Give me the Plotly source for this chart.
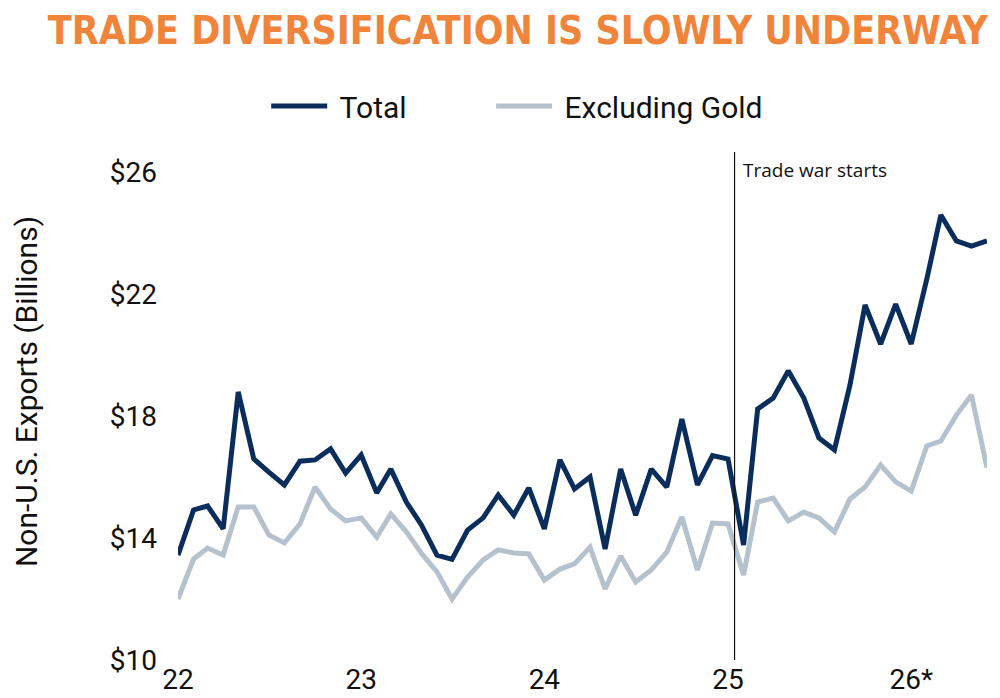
import plotly.graph_objects as go
import pandas as pd

# monthly values, Jan 2022 .. Jun 2026, $ billions
months = pd.date_range("2022-01-01", "2026-06-01", freq="MS")

total = [13.44, 14.92, 15.05, 14.30, 18.79, 16.59, 16.16, 15.74, 16.52, 16.56, 16.92, 16.13,
         16.72, 15.48, 16.26, 15.18, 14.43, 13.44, 13.30, 14.26, 14.66, 15.41, 14.75, 15.64,
         14.30, 16.56, 15.61, 16.00, 13.64, 16.26, 14.75, 16.26, 15.67, 17.90, 15.74, 16.70,
         16.59, 13.77, 18.23, 18.59, 19.48, 18.59, 17.28, 16.89, 19.02, 21.64, 20.36, 21.67,
         20.36, 22.49, 24.59, 23.74, 23.57, 23.74]

excl_gold = [12.00, 13.31, 13.67, 13.44, 15.02, 15.02, 14.10, 13.84, 14.46, 15.67, 14.95, 14.56,
             14.66, 14.03, 14.79, 14.20, 13.50, 12.89, 12.00, 12.72, 13.28, 13.61, 13.51, 13.48,
             12.62, 12.98, 13.15, 13.70, 12.33, 13.41, 12.56, 12.95, 13.54, 14.69, 12.95, 14.49,
             14.46, 12.79, 15.18, 15.31, 14.56, 14.85, 14.66, 14.20, 15.28, 15.67, 16.39, 15.84,
             15.54, 17.02, 17.18, 18.03, 18.69, 16.30]

year_ticks = ["2022-01-01", "2023-01-01", "2024-01-01", "2025-01-01", "2026-01-01"]
year_labels = ["22", "23", "24", "25", "26*"]
y_ticks = [10, 14, 18, 22, 26]
y_labels = ["$10", "$14", "$18", "$22", "$26"]
trade_war_date = "2025-01-14"

NAVY = "#0B2D5B"
GREY = "#B6C1CE"
ORANGE = "#F0843A"
INK = "#111111"

fig = go.Figure()
# leading nbsp gives the wider gap between legend line and text
fig.add_trace(go.Scatter(x=months, y=total, mode="lines", name="\u00a0Total",
                         line=dict(color=NAVY, width=5), legend="legend"))
fig.add_trace(go.Scatter(x=months, y=excl_gold, mode="lines", name="\u00a0Excluding Gold",
                         line=dict(color=GREY, width=5), legend="legend2"))

legend_style = dict(orientation="h", xanchor="left", y=1.135, yanchor="middle",
                    font=dict(family="Roboto", size=30, color=INK),
                    itemwidth=56, bgcolor="rgba(0,0,0,0)")

# page body has an 8px margin, so the figure is 992x690 and sits at (8, 8)
fig.update_layout(
    width=992, height=690,
    template="plotly_white",
    plot_bgcolor="white", paper_bgcolor="white",
    margin=dict(l=170, r=13, t=164, b=38, autoexpand=False),
    font=dict(family="Roboto", size=28, color=INK),
    title=dict(text="<b>TRADE DIVERSIFICATION IS SLOWLY UNDERWAY</b>",
               x=0.514, xanchor="center", xref="container",
               y=1 - 22 / 690, yanchor="middle", yref="container",
               font=dict(family="DejaVu Sans Condensed, DejaVu Sans", size=39, color=ORANGE)),
    legend=dict(x=0.109, **legend_style),
    legend2=dict(x=0.387, **legend_style),
    showlegend=True,
)

fig.update_xaxes(range=[months[0], months[-1]], tickvals=year_ticks, ticktext=year_labels,
                 showgrid=False, zeroline=False, showline=False, ticks="",
                 tickfont=dict(family="Roboto", size=28, color=INK))
fig.update_yaxes(range=[10, 26], tickvals=y_ticks, ticktext=y_labels,
                 showgrid=False, zeroline=False, showline=False, ticks="",
                 ticklabelstandoff=20,
                 tickfont=dict(family="Roboto", size=28, color=INK))

fig.add_shape(type="line", xref="x", yref="paper", x0=trade_war_date, x1=trade_war_date,
              y0=0, y1=1.041, line=dict(color=INK, width=1.2))
fig.add_annotation(xref="x", yref="paper", x=trade_war_date, y=1.005, xanchor="left",
                   yanchor="middle", xshift=6, showarrow=False, text="Trade war starts",
                   font=dict(family="Open Sans", size=19, color=INK))

fig.add_annotation(xref="paper", yref="paper", x=(18 - 170) / 809, y=0.549, xanchor="center",
                   yanchor="middle", textangle=-90, showarrow=False,
                   text="Non-U.S. Exports (Billions)",
                   font=dict(family="Roboto", size=30, color=INK))

fig.write_html("out.html")
